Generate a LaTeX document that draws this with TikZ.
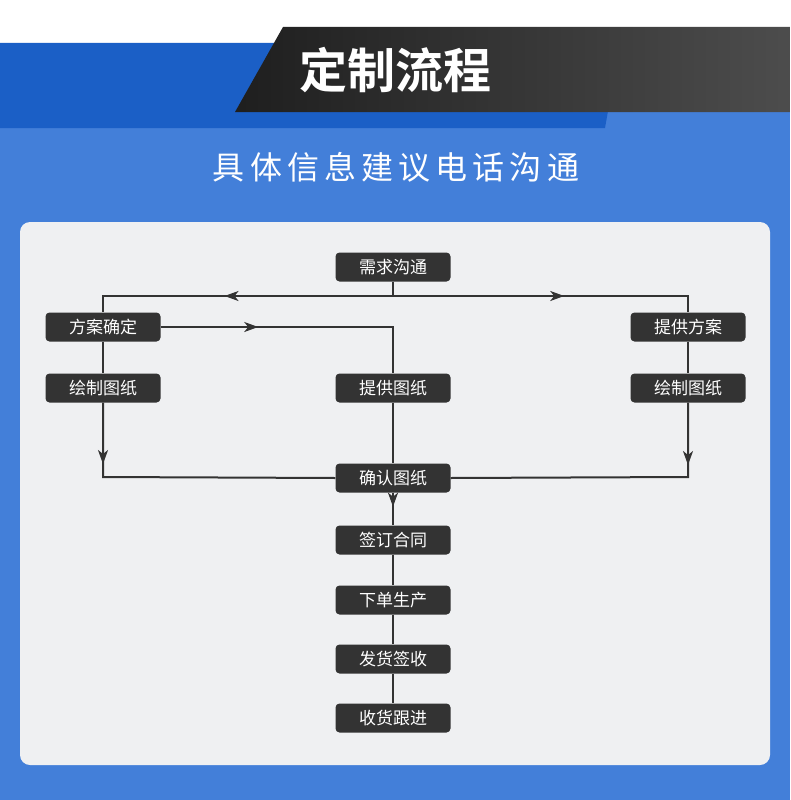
\documentclass[tikz,border=0pt]{standalone}
\usepackage{fontspec}
\newfontfamily\cjk{Noto Sans CJK SC}
\newfontfamily\cjkb{Noto Sans CJK SC Bold}
\newfontfamily\cjks[LetterSpace=16]{Noto Sans CJK SC}
\usetikzlibrary{arrows.meta,decorations.markings}
\definecolor{bgblue}{HTML}{437FD9}
\definecolor{dkblue}{HTML}{1B5FC6}
\definecolor{panel}{HTML}{EFF0F2}
\definecolor{boxc}{HTML}{333333}
\tikzset{
 stepbox/.style={fill=boxc,rounded corners=4pt,minimum width=115pt,minimum height=29pt,text=white,font=\cjk\fontsize{17}{17}\selectfont,inner sep=0pt},
 ln/.style={draw=boxc,line width=2pt},
 marr/.style={postaction={decorate},decoration={markings,mark=at position #1 with {\arrow{Stealth[length=14pt,width=10pt,inset=4pt]}}}}
}
\begin{document}
\begin{tikzpicture}[x=1pt,y=-1pt]
\useasboundingbox (0,0) rectangle (790,800);
\fill[white] (0,0) rectangle (790,800);
\fill[bgblue] (0,43) rectangle (790,800);
\fill[dkblue] (0,43) -- (620,43) -- (605,128) -- (0,128) -- cycle;
\shade[left color=black!88,right color=black!70] (283,27) -- (790,27) -- (790,112) -- (235,112) -- cycle;
\node[text=white,font=\cjkb\fontsize{48}{48}\selectfont] (title) at (395,70) {定制流程};
\node[text=white,font=\cjks\fontsize{32}{32}\selectfont] (sub) at (396,167) {具体信息建议电话沟通};
\fill[panel,rounded corners=10pt] (20,222) rectangle (770,765);
\node[stepbox] (a) at (393,267) {需求沟通};
\node[stepbox] (b) at (103,327) {方案确定};
\node[stepbox] (c) at (103,388) {绘制图纸};
\node[stepbox] (d) at (393,388) {提供图纸};
\node[stepbox] (e) at (688,327) {提供方案};
\node[stepbox] (f) at (688,388) {绘制图纸};
\node[stepbox] (g) at (393,478) {确认图纸};
\node[stepbox] (h) at (393,540) {签订合同};
\node[stepbox] (i) at (393,600) {下单生产};
\node[stepbox] (j) at (393,659) {发货签收};
\node[stepbox] (k) at (393,718) {收货跟进};
\coordinate (t) at (393,296);
\path[ln] (a.south) -- (t);
\path[ln,marr=0.55] (t) -- (103,296) -- (b.north);
\path[ln,marr=0.55] (t) -- (688,296) -- (e.north);
\path[ln,marr=0.35] (b.east) -- (393,327) -- (d.north);
\path[ln] (b.south) -- (c.north);
\path[ln] (e.south) -- (f.north);
\path[ln,marr=0.2] (c.south) -- (103,477) -- (g.west);
\path[ln,marr=0.2] (f.south) -- (688,477) -- (g.east);
\path[ln] (d.south) -- (g.north);
\path[ln,marr=1] (g.south) -- ([yshift=-14pt]g.south);
\path[ln] ([yshift=-14pt]g.south) -- (h.north);
\path[ln] (h.south) -- (i.north);
\path[ln] (i.south) -- (j.north);
\path[ln] (j.south) -- (k.north);
\end{tikzpicture}
\end{document}
